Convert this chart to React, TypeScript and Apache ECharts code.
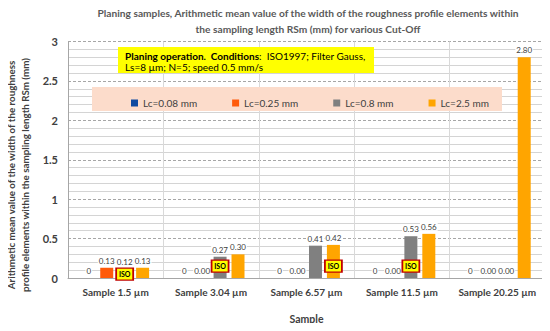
import React, { useEffect, useRef } from "react";
import * as echarts from "echarts";

const categories = ["Sample 1.5 µm", "Sample 3.04 µm", "Sample 6.57 µm", "Sample 11.5 µm", "Sample 20.25 µm"];
const seriesNames = ["Lc=0.08 mm", "Lc=0.25 mm", "Lc=0.8 mm", "Lc=2.5 mm"];
const lc008 = [0, 0, 0, 0, 0];
const lc025 = [0.13, 0.0, 0.0, 0.0, 0.0];
const lc08 = [0.12, 0.27, 0.41, 0.53, 0.0];
const lc25 = [0.13, 0.3, 0.42, 0.56, 2.8];
const seriesColors = ["#0F4AA0", "#FF5A0A", "#808080", "#FFA500"];
const yTicks = { min: 0, max: 3, interval: 0.5 };
// ISO annotation boxes: [series index, category, value level]
const isoMarks: [number, string, number][] = [
  [2, "Sample 1.5 µm", 0.05],
  [2, "Sample 3.04 µm", 0.15],
  [3, "Sample 6.57 µm", 0.15],
  [2, "Sample 11.5 µm", 0.15],
];

const FONT = "Lato, 'Open Sans', sans-serif";

export default function App() {
  const ref = useRef<HTMLDivElement>(null);
  useEffect(() => {
    if (!ref.current) return;
    const chart = echarts.init(ref.current, undefined, { renderer: "svg" });
    const allData = [lc008, lc025, lc08, lc25];
    const series = allData.map((d, i) => ({
      name: seriesNames[i],
      type: "bar",
      data: d,
      barWidth: 13,
      barGap: "38%",
      itemStyle: { color: seriesColors[i] },
      label: {
        show: true,
        position: "top",
        distance: 3,
        fontSize: 8,
        fontFamily: FONT,
        color: "#404040",
        backgroundColor: "#ffffff",
        padding: [0, 1],
        formatter: (p: any) => (i === 0 ? String(p.value) : Number(p.value).toFixed(2)),
      },
      markPoint: {
        symbol: "rect",
        symbolSize: [17, 12],
        itemStyle: { color: "#FFFF00", borderColor: "#C00000", borderWidth: 1.5 },
        label: {
          show: true,
          position: "inside",
          formatter: "ISO",
          fontSize: 7,
          fontWeight: "bold",
          fontFamily: FONT,
          color: "#000",
        },
        data: isoMarks
          .filter((m) => m[0] === i)
          .map((m) => ({ coord: [categories.indexOf(m[1]), m[2]] })),
      },
      z: 2,
    }));
    chart.setOption({
      animation: false,
      textStyle: { fontFamily: FONT },
      grid: { left: 68, right: 5, top: 41.5, bottom: 53 },
      legend: {
        data: seriesNames,
        left: 126,
        top: 93,
        itemWidth: 7,
        itemHeight: 7,
        itemGap: 35,
        icon: "rect",
        textStyle: { fontSize: 10, color: "#404040", fontFamily: FONT },
        z: 10,
      },
      xAxis: {
        type: "category",
        data: categories,
        name: "Sample",
        nameLocation: "middle",
        nameGap: 35,
        nameTextStyle: { fontSize: 10.5, fontWeight: "bold", color: "#404040", fontFamily: FONT },
        axisLine: { show: true, lineStyle: { color: "#A6A6A6" } },
        axisTick: { show: false },
        axisLabel: { interval: 0, fontSize: 10, fontWeight: "bold", color: "#404040", margin: 9, fontFamily: FONT },
        splitLine: { show: true, lineStyle: { color: "#D9D9D9", width: 1 } },
      },
      yAxis: {
        type: "value",
        min: yTicks.min,
        max: yTicks.max,
        interval: yTicks.interval,
        axisLine: { show: true, lineStyle: { color: "#A6A6A6" } },
        axisTick: { show: false },
        axisLabel: { fontSize: 11, fontWeight: "bold", color: "#404040", margin: 10, fontFamily: FONT },
        splitLine: { show: true, lineStyle: { color: "#A6A6A6", type: [3, 2], width: 1 } },
        minorTick: { show: false, splitNumber: 5 },
        minorSplitLine: { show: true, lineStyle: { color: "#D4D4D4", width: 1 } },
      },
      graphic: [
        {
          type: "text",
          x: 308,
          y: 5,
          z: 10,
          style: {
            text: "Planing samples, Arithmetic mean value of the width of the roughness profile elements within\nthe sampling length RSm (mm) for various Cut-Off",
            align: "center",
            fontSize: 10.2,
            fontWeight: "bold",
            lineHeight: 16,
            fill: "#595959",
            fontFamily: FONT,
          },
        },
        {
          type: "text",
          x: 4,
          y: 175,
          rotation: Math.PI / 2,
          z: 10,
          style: {
            text: "Arithmetic mean value of the width of the roughness\nprofile elements within the sampling length RSm (mm)",
            align: "center",
            verticalAlign: "top",
            fontSize: 9.8,
            fontWeight: "bold",
            lineHeight: 14,
            fill: "#404040",
            fontFamily: FONT,
          },
        },
        {
          type: "rect",
          shape: { x: 92, y: 87, width: 410, height: 24 },
          style: { fill: "#FCDCCB" },
          z: 5,
        },
        {
          type: "rect",
          shape: { x: 118, y: 47, width: 256, height: 26 },
          style: { fill: "#FFFF00" },
          z: 5,
        },
        {
          type: "text",
          x: 125,
          y: 50,
          z: 6,
          style: {
            rich: {
              b: { fontWeight: "bold", fontSize: 10, fill: "#000", fontFamily: FONT },
              n: { fontSize: 10, fill: "#000", fontFamily: FONT },
            },
            text: "{b|Planing operation.  Conditions}{n|:  ISO1997; Filter Gauss,}\n{n|Ls=8 µm; N=5; speed 0.5 mm/s}",
            lineHeight: 11.5,
            fontSize: 10,
            fontFamily: FONT,
          },
        },
      ],
      series,
    });
    return () => chart.dispose();
  }, []);
  return <div ref={ref} style={{ width: 550, height: 331, margin: -8 }} />;
}
